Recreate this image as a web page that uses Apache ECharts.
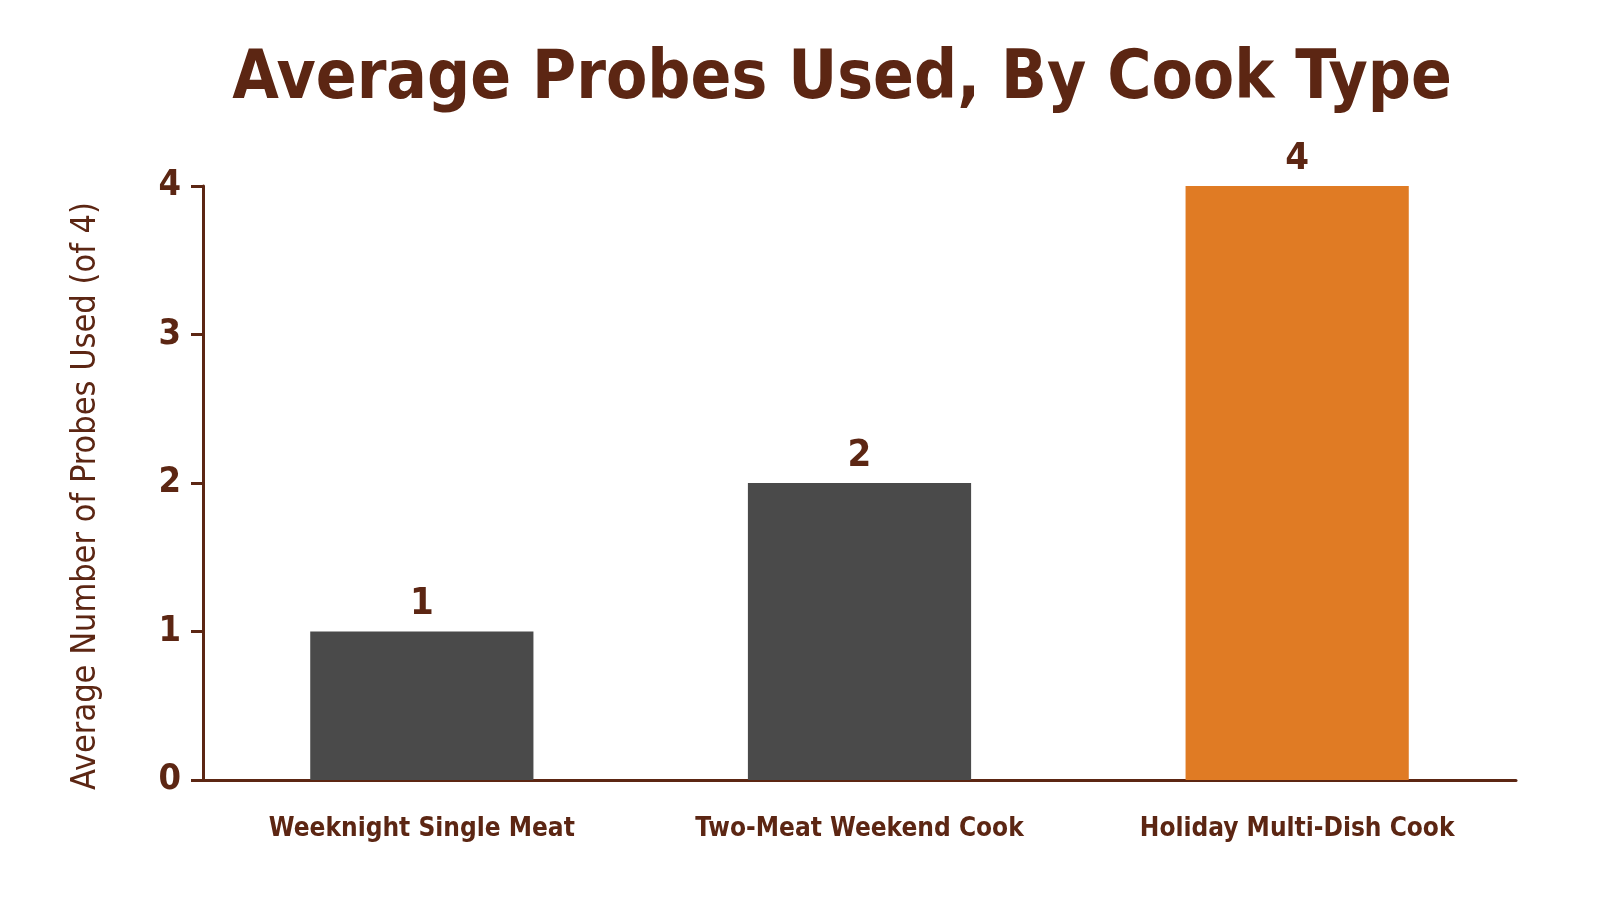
<!DOCTYPE html>
<html>
<head>
<meta charset="utf-8">
<title>Average Probes Used, By Cook Type</title>
<script src="https://cdn.jsdelivr.net/npm/echarts@6/dist/echarts.min.js"></script>
<style>
  html, body { margin: 0; padding: 0; background: #fff; }
  #chart { width: 1599px; height: 900px; }
</style>
</head>
<body>
<div id="chart"></div>
<script>
// data
var categories = ['Weeknight Single Meat', 'Two-Meat Weekend Cook', 'Holiday Multi-Dish Cook'];
var probesUsed = [1, 2, 4];
var barColors = ['#4a4a4a', '#4a4a4a', '#e07b24'];
var yTicks = [0, 1, 2, 3, 4];

var brown = '#5c2613';
var font = '"DejaVu Sans Condensed", "Liberation Sans Narrow", sans-serif';

var chart = echarts.init(document.getElementById('chart'));

chart.setOption({
  backgroundColor: '#ffffff',
  animation: false,
  title: {
    text: 'Average Probes Used, By Cook Type',
    left: 837,
    textAlign: 'center',
    top: 42,
    textStyle: { color: brown, fontFamily: font, fontWeight: 'bold', fontSize: 67 }
  },
  grid: { left: 203, right: 83, top: 186, bottom: 120 },
  xAxis: {
    type: 'category',
    data: categories,
    axisLine: { lineStyle: { color: brown, width: 3 } },
    axisTick: { alignWithLabel: true, length: 12, lineStyle: { color: brown, width: 3 } },
    axisLabel: { interval: 0, color: brown, fontFamily: font, fontWeight: 'bold', fontSize: 26, margin: 36 }
  },
  yAxis: {
    type: 'value',
    min: yTicks[0],
    max: yTicks[yTicks.length - 1],
    interval: 1,
    name: 'Average Number of Probes Used (of 4)',
    nameLocation: 'middle',
    nameGap: 100,
    nameTextStyle: { color: brown, fontFamily: font, fontSize: 34, padding: [0, 26, 0, 0] },
    axisLine: { show: true, lineStyle: { color: brown, width: 3 } },
    axisTick: { show: true, length: 12, lineStyle: { color: brown, width: 3 } },
    splitLine: { show: false },
    axisLabel: { color: brown, fontFamily: font, fontWeight: 'bold', fontSize: 36, margin: 22 }
  },
  series: [{
    type: 'bar',
    barWidth: '51%',
    data: probesUsed.map(function (v, i) {
      return { value: v, itemStyle: { color: barColors[i] } };
    }),
    label: {
      show: true,
      position: 'top',
      distance: 8,
      color: brown,
      fontFamily: font,
      fontWeight: 'bold',
      fontSize: 38
    }
  }]
});
</script>
</body>
</html>
